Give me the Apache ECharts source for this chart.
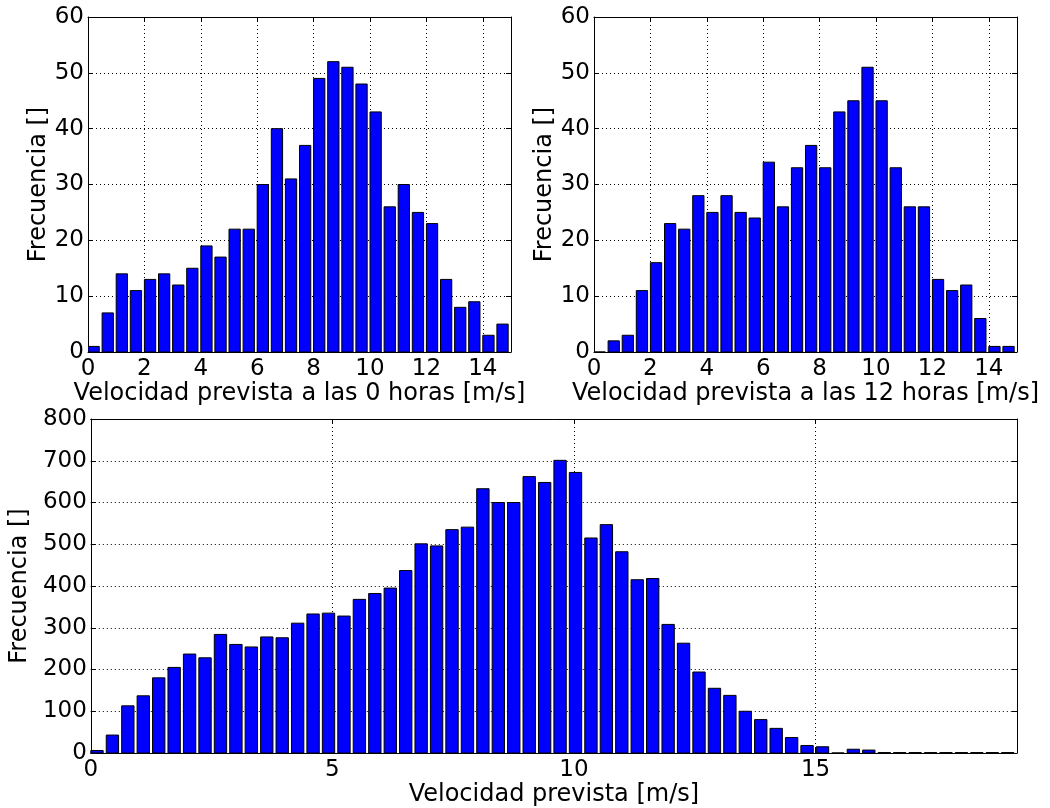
<!DOCTYPE html>
<html>
<head>
<meta charset="utf-8">
<title>Velocidad prevista</title>
<script src="https://cdn.jsdelivr.net/npm/echarts@6/dist/echarts.min.js"></script>
<style>
  html, body { margin: 0; padding: 0; background: #ffffff; }
  #chart { width: 1050px; height: 808px; }
</style>
</head>
<body>
<div id="chart"></div>
<script>
// Histogram counts of forecast wind speed.
// Top panels: 0.5 m/s bins from 0 to 15 m/s (left edges listed below).
const binEdgesTop = [0, 0.5, 1, 1.5, 2, 2.5, 3, 3.5, 4, 4.5, 5, 5.5, 6, 6.5, 7, 7.5,
  8, 8.5, 9, 9.5, 10, 10.5, 11, 11.5, 12, 12.5, 13, 13.5, 14, 14.5];
const binWidthTop = 0.5;
const counts0h = [1, 7, 14, 11, 13, 14, 12, 15, 19, 17, 22, 22, 30, 40, 31, 37,
  49, 52, 51, 48, 43, 26, 30, 25, 23, 13, 8, 9, 3, 5];
const counts12h = [0, 2, 3, 11, 16, 23, 22, 28, 25, 28, 25, 24, 34, 26, 33, 37,
  33, 43, 45, 51, 45, 33, 26, 26, 13, 11, 12, 6, 1, 1];

// Bottom panel: all forecast horizons, 60 equal bins over the data range.
const rangeAll = [0, 19.17];
const countsAll = [6, 43, 113, 137, 180, 205, 237, 228, 284, 260,
  254, 278, 276, 311, 333, 335, 328, 368, 382, 395,
  437, 501, 496, 535, 541, 633, 600, 600, 662, 648,
  701, 672, 515, 547, 482, 415, 418, 308, 263, 194,
  155, 138, 100, 80, 59, 37, 18, 15, 0, 9,
  7, 1, 1, 1, 1, 1, 1, 1, 1, 1];

// Tick labels
const xTicksTop = [0, 2, 4, 6, 8, 10, 12, 14];
const yTicksTop = [0, 10, 20, 30, 40, 50, 60];
const xTicksAll = [0, 5, 10, 15];
const yTicksAll = [0, 100, 200, 300, 400, 500, 600, 700, 800];

// Axis titles
const xTitle0h = 'Velocidad prevista a las 0 horas [m/s]';
const xTitle12h = 'Velocidad prevista a las 12 horas [m/s]';
const xTitleAll = 'Velocidad prevista [m/s]';
const yTitle = 'Frecuencia []';

// ---- build the chart ----
const binWidthAll = (rangeAll[1] - rangeAll[0]) / countsAll.length;
const edgesAll = countsAll.map((_, i) => rangeAll[0] + i * binWidthAll);

const FONT = 'DejaVu Sans';
const TICK_SIZE = 23;
const TITLE_SIZE = 24;
const BAR_FRACTION = 0.8;

function pairs(edges, counts) {
  return counts.map((c, i) => [edges[i], c]);
}

function histRenderer(binWidth) {
  return function (params, api) {
    const x0 = api.value(0);
    const h = api.value(1);
    const base = api.coord([x0, 0]);
    const top = api.coord([x0 + binWidth * BAR_FRACTION, h]);
    return {
      type: 'rect',
      shape: { x: base[0], y: top[1], width: top[0] - base[0], height: base[1] - top[1] },
      style: { fill: '#0000ff', stroke: '#000000', lineWidth: 1 }
    };
  };
}

function labelFrom(list) {
  return function (v) {
    return list.some(t => Math.abs(t - v) < 1e-9) ? String(v) : '';
  };
}

const boxLine = { show: true, onZero: false, lineStyle: { color: '#000', width: 1 } };
const innerTick = { show: true, inside: true, length: 5, lineStyle: { color: '#000', width: 1 } };
const dotted = { show: true, lineStyle: { color: '#000', width: 1, type: [1, 3] } };

function xAxes(gridIndex, max, interval, ticks, title, gap) {
  return [
    {
      gridIndex, type: 'value', position: 'bottom', min: 0, max, interval,
      axisLine: boxLine, axisTick: innerTick, splitLine: dotted,
      axisLabel: { fontFamily: FONT, fontSize: TICK_SIZE, color: '#000', margin: 6,
        formatter: labelFrom(ticks), showMaxLabel: true, showMinLabel: true },
      name: title, nameLocation: 'middle', nameGap: gap,
      nameTextStyle: { fontFamily: FONT, fontSize: TITLE_SIZE, color: '#000' }
    },
    {
      gridIndex, type: 'value', position: 'top', min: 0, max, interval,
      axisLine: boxLine, axisTick: innerTick, splitLine: { show: false },
      axisLabel: { show: false }
    }
  ];
}

function yAxes(gridIndex, max, interval, ticks, title, gap) {
  return [
    {
      gridIndex, type: 'value', position: 'left', min: 0, max, interval,
      axisLine: boxLine, axisTick: innerTick, splitLine: dotted,
      axisLabel: { fontFamily: FONT, fontSize: TICK_SIZE, color: '#000', margin: 4,
        formatter: labelFrom(ticks) },
      name: title, nameLocation: 'middle', nameGap: gap, nameRotate: 90,
      nameTextStyle: { fontFamily: FONT, fontSize: TITLE_SIZE, color: '#000' }
    },
    {
      gridIndex, type: 'value', position: 'right', min: 0, max, interval,
      axisLine: boxLine, axisTick: innerTick, splitLine: { show: false },
      axisLabel: { show: false }
    }
  ];
}

const option = {
  animation: false,
  backgroundColor: '#ffffff',
  grid: [
    { left: 88, top: 17, width: 423, height: 335 },
    { left: 594, top: 17, width: 423, height: 335 },
    { left: 88, top: 419, width: 929, height: 335 }
  ],
  xAxis: [
    ...xAxes(0, 15, 2, xTicksTop, xTitle0h, 30),
    ...xAxes(1, 15, 2, xTicksTop, xTitle12h, 30),
    ...xAxes(2, rangeAll[1], 5, xTicksAll, xTitleAll, 30)
  ],
  yAxis: [
    ...yAxes(0, 60, 10, yTicksTop, yTitle, 36),
    ...yAxes(1, 60, 10, yTicksTop, yTitle, 36),
    ...yAxes(2, 800, 100, yTicksAll, yTitle, 52)
  ],
  series: [
    { type: 'custom', xAxisIndex: 0, yAxisIndex: 0, renderItem: histRenderer(binWidthTop),
      data: pairs(binEdgesTop, counts0h), encode: { x: 0, y: 1 }, clip: true },
    { type: 'custom', xAxisIndex: 2, yAxisIndex: 2, renderItem: histRenderer(binWidthTop),
      data: pairs(binEdgesTop, counts12h), encode: { x: 0, y: 1 }, clip: true },
    { type: 'custom', xAxisIndex: 4, yAxisIndex: 4, renderItem: histRenderer(binWidthAll),
      data: pairs(edgesAll, countsAll), encode: { x: 0, y: 1 }, clip: true }
  ]
};

const chart = echarts.init(document.getElementById('chart'), null, { renderer: 'canvas' });
chart.setOption(option);
</script>
</body>
</html>
